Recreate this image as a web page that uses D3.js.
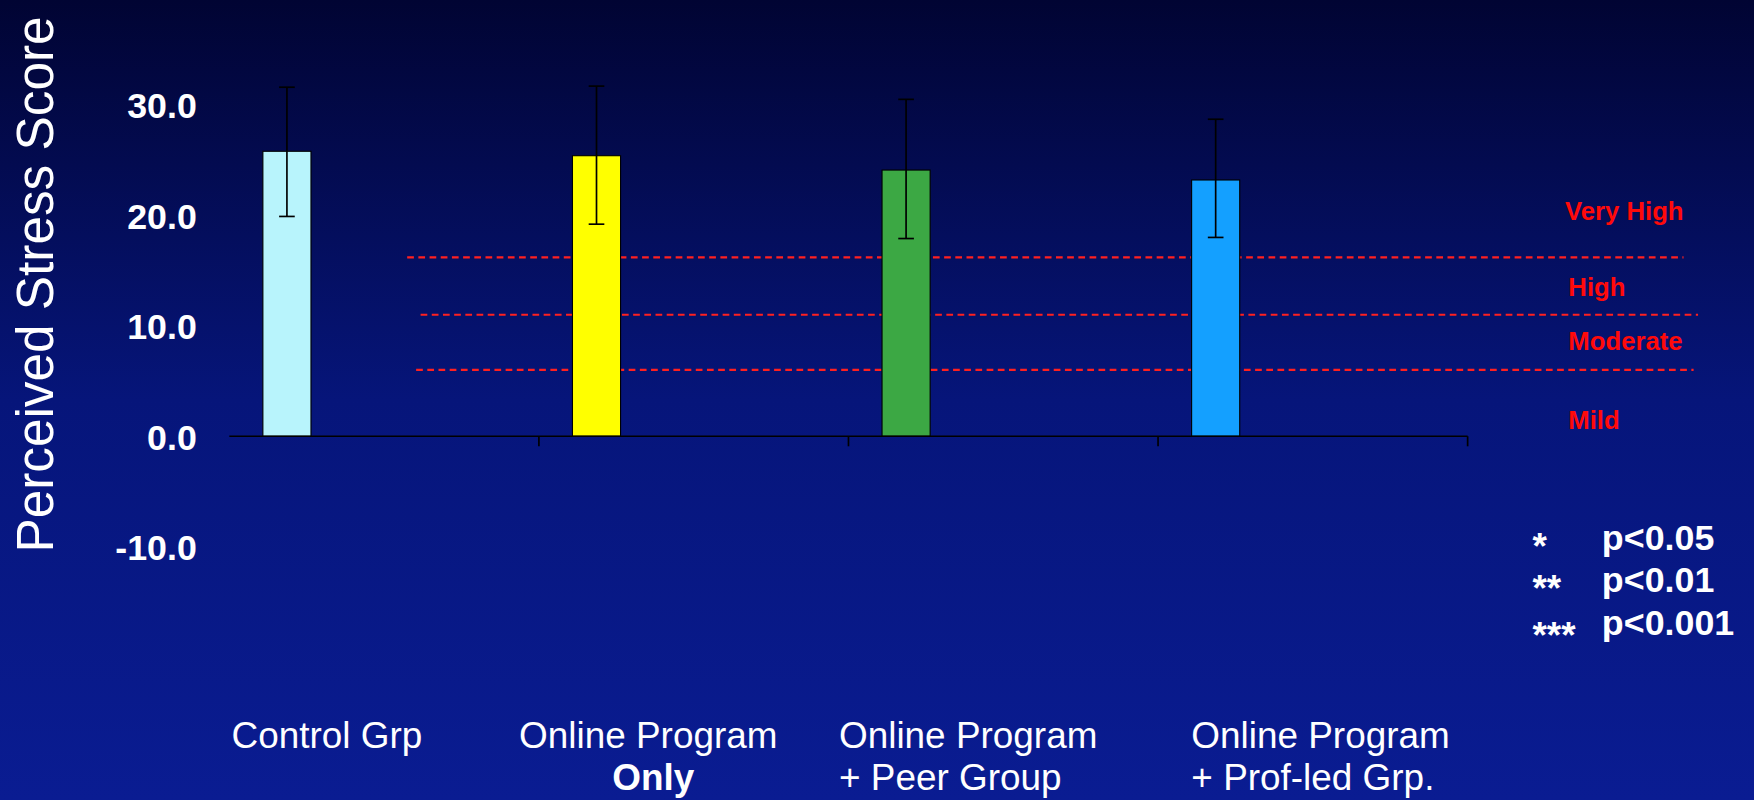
<!DOCTYPE html>
<html><head><meta charset="utf-8">
<script src="https://cdn.jsdelivr.net/npm/d3@7"></script>
<style>html,body{margin:0;padding:0;overflow:hidden;background:#000530}</style>
</head><body>
<svg id="chart" width="1754" height="800" viewBox="0 0 1568 717" preserveAspectRatio="none"></svg>
<script>
// data
const groups = ["Control Grp", "Online Program Only", "Online Program + Peer Group", "Online Program + Prof-led Grp."];
const line1 = ["Control Grp", "Online Program", "Online Program", "Online Program"];
const line2 = ["", "Only", "+ Peer Group", "+ Prof-led Grp."];
const boldLine2 = [false, true, false, false];
const means = [25.8, 25.4, 24.1, 23.2];
const errLow = [19.9, 19.2, 17.9, 18.0];
const errHigh = [31.6, 31.7, 30.5, 28.7];
const barColors = ["#b8f4fc", "#ffff00", "#3ca844", "#14a0ff"];
const yTicks = [-10, 0, 10, 20, 30];
const cutoffs = [16.2, 11.0, 6.0];
const cutoffX = [[364, 1505], [376, 1518], [372, 1514]];
const bandLabels = [["Very High", 20.4], ["High", 13.5], ["Moderate", 8.6], ["Mild", 1.5]];
const sigStars = ["*", "**", "***"];
const sigText = ["p<0.05", "p<0.01", "p<0.001"];

const svg = d3.select("#chart");
const W = 1568, H = 717;
const FONT = "Liberation Sans, Arial";

let defs = svg.append("defs");
let grad = defs.append("linearGradient").attr("id", "bg").attr("x1", 0).attr("y1", 0).attr("x2", 0).attr("y2", 1);
grad.append("stop").attr("offset", "0%").attr("stop-color", "#010433");
grad.append("stop").attr("offset", "50%").attr("stop-color", "#06157a");
grad.append("stop").attr("offset", "100%").attr("stop-color", "#0a1c92");
svg.append("rect").attr("width", W).attr("height", H).attr("fill", "url(#bg)");

const x = d3.scaleBand().domain(groups).range([205, 1312]);
const y = d3.scaleLinear().domain([0, 30]).range([391, 94]);
const barOffset = 30, barW = 43;

// cutoff lines (behind bars)
svg.selectAll(".cut").data(cutoffs).join("line")
  .attr("x1", (d, i) => cutoffX[i][0]).attr("x2", (d, i) => cutoffX[i][1])
  .attr("y1", d => y(d)).attr("y2", d => y(d))
  .attr("stroke", "#ff2020").attr("stroke-width", 2).attr("stroke-dasharray", "6,4");

svg.selectAll(".band").data(bandLabels).join("text")
  .attr("x", d => d[0] == "Very High" ? 1399 : 1402)
  .attr("y", d => y(d[1]) + 8)
  .attr("fill", "#ff0a0a").attr("font-family", FONT)
  .attr("font-weight", "bold").attr("font-size", 23)
  .text(d => d[0]);

// bars
svg.selectAll(".bar").data(groups).join("rect")
  .attr("x", d => x(d) + barOffset).attr("width", barW)
  .attr("y", (d, i) => y(means[i])).attr("height", (d, i) => y(0) - y(means[i]))
  .attr("fill", (d, i) => barColors[i]).attr("stroke", "#000").attr("stroke-width", 1);

// error bars
let eb = svg.append("g").attr("stroke", "#000").attr("stroke-width", 1.5);
groups.forEach((g, i) => {
  let cx = x(g) + barOffset + barW / 2;
  eb.append("line").attr("x1", cx).attr("x2", cx).attr("y1", y(errHigh[i])).attr("y2", y(errLow[i]));
  eb.append("line").attr("x1", cx - 7).attr("x2", cx + 7).attr("y1", y(errHigh[i])).attr("y2", y(errHigh[i]));
  eb.append("line").attr("x1", cx - 7).attr("x2", cx + 7).attr("y1", y(errLow[i])).attr("y2", y(errLow[i]));
});

// x axis line and ticks
svg.append("line").attr("x1", 205).attr("x2", 1312).attr("y1", y(0)).attr("y2", y(0)).attr("stroke", "#000").attr("stroke-width", 1.5);
svg.selectAll(".xt").data(groups).join("line")
  .attr("x1", d => x(d) + x.bandwidth()).attr("x2", d => x(d) + x.bandwidth())
  .attr("y1", y(0)).attr("y2", y(0) + 9).attr("stroke", "#000").attr("stroke-width", 1.5);

// y tick labels
svg.selectAll(".yt").data(yTicks).join("text")
  .attr("x", 176).attr("y", d => y(d) + 12).attr("text-anchor", "end")
  .attr("fill", "#fff").attr("font-family", FONT).attr("font-weight", "bold").attr("font-size", 32)
  .text(d => d.toFixed(1));

svg.append("text").attr("transform", "translate(47,255) rotate(-90)").attr("text-anchor", "middle")
  .attr("fill", "#fff").attr("font-family", FONT).attr("font-size", 46)
  .text("Perceived Stress Score");

// category labels
const labelX = [207, 464, 750, 1065];
groups.forEach((g, i) => {
  svg.append("text").attr("x", labelX[i]).attr("y", 670)
    .attr("fill", "#fff").attr("font-family", FONT).attr("font-size", 33).text(line1[i]);
  if (line2[i]) {
    svg.append("text").attr("x", boldLine2[i] ? labelX[i] + 120 : labelX[i]).attr("y", 708)
      .attr("text-anchor", boldLine2[i] ? "middle" : "start")
      .attr("fill", "#fff").attr("font-family", FONT)
      .attr("font-weight", boldLine2[i] ? "bold" : "normal").attr("font-size", 33).text(line2[i]);
  }
});

// significance legend
sigStars.forEach((s, i) => {
  let yy = 493 + i * 38;
  svg.append("text").attr("x", 1370).attr("y", yy + (i == 2 ? 12 : 8)).attr("fill", "#fff")
    .attr("font-family", FONT).attr("font-weight", "bold").attr("font-size", 33).text(s);
  svg.append("text").attr("x", 1432).attr("y", yy).attr("fill", "#fff")
    .attr("font-family", FONT).attr("font-weight", "bold").attr("font-size", 32).text(sigText[i]);
});
</script>
</body></html>
